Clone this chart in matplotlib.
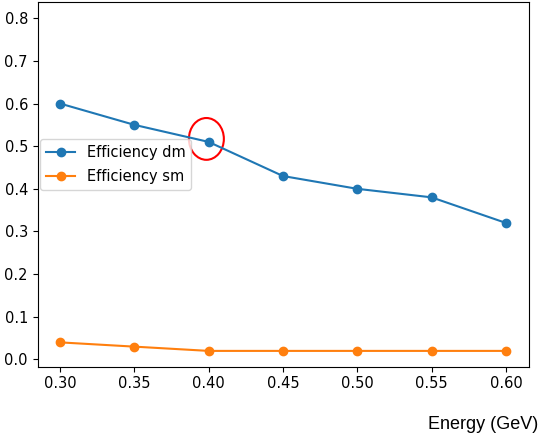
import matplotlib.pyplot as plt
from matplotlib.patches import Ellipse

energy = [0.30, 0.35, 0.40, 0.45, 0.50, 0.55, 0.60]
eff_dm = [0.60, 0.55, 0.51, 0.43, 0.40, 0.38, 0.32]
eff_sm = [0.04, 0.03, 0.02, 0.02, 0.02, 0.02, 0.02]

plt.rcParams['font.size'] = 10.5

fig = plt.figure(figsize=(5.42, 4.45), dpi=100)
ax = fig.add_axes([0.0695, 0.176, 0.907, 0.8195])

ax.plot(energy, eff_dm, marker='o', label='Efficiency dm')
ax.plot(energy, eff_sm, marker='o', label='Efficiency sm')

ax.set_xlim(0.285, 0.6157)
ax.set_ylim(-0.017, 0.838)
ax.set_xticks(energy)
ax.set_xticklabels(['%.2f' % e for e in energy])
ax.set_yticks([0.0, 0.1, 0.2, 0.3, 0.4, 0.5, 0.6, 0.7, 0.8])

# highlight point at 0.40
ax.add_patch(Ellipse((0.3985, 0.517), 0.0235, 0.098, fill=False,
                     edgecolor='red', linewidth=1.5))

ax.legend(loc='upper left', bbox_to_anchor=(0.005, 0.624), borderaxespad=0,
          labelspacing=0.6)

fig.text(0.993, 0.047, 'Energy (GeV)', ha='right', va='center',
         fontsize=13, family='Liberation Sans')

fig.savefig('out.png', dpi=100)
